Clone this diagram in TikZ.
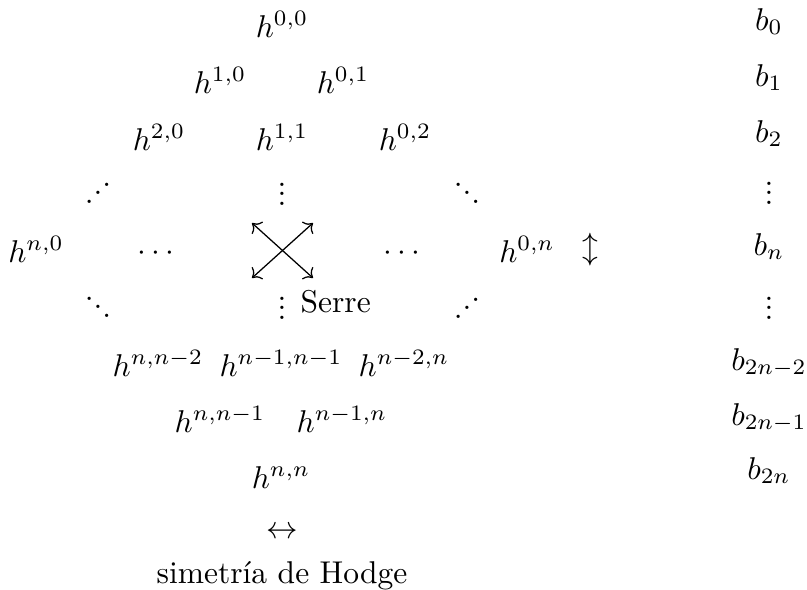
\documentclass[tikz,border=0pt]{standalone}
\usepackage{amsmath}
\usetikzlibrary{arrows.meta}
\newcommand{\vpuntos}{\vbox{\baselineskip3pt\lineskiplimit0pt\hbox{.}\hbox{.}\hbox{.}}}
\newcommand{\dpuntos}{\hbox{\raisebox{5.3pt}{.}\raisebox{2.65pt}{.}.}}
\newcommand{\ipuntos}{\hbox{.\raisebox{2.65pt}{.}\raisebox{5.3pt}{.}}}

\begin{document}
\begin{tikzpicture}[x=0.01115cm,y=-0.01115cm,line width=0.4pt,>={Computer Modern Rightarrow},
  hn/.style={anchor=base,inner sep=0pt},
  bn/.style={anchor=base,inner sep=0pt},
  pt/.style={inner sep=0pt}]
  \useasboundingbox (0,0) rectangle (807,590);
  % diamante de Hodge
  \node[hn] (h00) at (282,37){$h^{0,0}$};
  \node[hn] (h10) at (220,93){$h^{1,0}$}; \node[hn] (h01) at (343,93){$h^{0,1}$};
  \node[hn] (h20) at (159,150){$h^{2,0}$}; \node[hn] (h11) at (282,150){$h^{1,1}$}; \node[hn] (h02) at (405,150){$h^{0,2}$};
  \node[pt] (d3a) at (98,193){\ipuntos}; \node[pt] (d3b) at (282,194){\vpuntos}; \node[pt] (d3c) at (467,193){\dpuntos};
  \node[hn] (hn0) at (36,262){$h^{n,0}$}; \node[hn] (c4a) at (159,260){$\cdots$};
  \node[hn] (c4b) at (405,260){$\cdots$}; \node[hn] (h0n) at (527,262){$h^{0,n}$};
  \node[pt] (d5a) at (98,307){\dpuntos}; \node[pt] (d5b) at (282,308){\vpuntos}; \node[pt] (d5c) at (467,308){\ipuntos};
  \node[hn] (hnn2) at (158,376){$h^{n,n-2}$}; \node[hn] (hn1n1) at (281,376){$h^{n-1,n-1}$}; \node[hn] (hn2n) at (404,376){$h^{n-2,n}$};
  \node[hn] (hnn1) at (220,432){$h^{n,n-1}$}; \node[hn] (hn1n) at (342,432){$h^{n-1,n}$};
  \node[hn] (hnn) at (281,488){$h^{n,n}$};
  % simetrias
  \coordinate (snw) at (252,223); \coordinate (sne) at (313,223);
  \coordinate (ssw) at (252,278); \coordinate (sse) at (313,278);
  \draw[<->] (snw)--(sse); \draw[<->] (sne)--(ssw);
  \node[hn,anchor=base west] (serre) at (300,312){Serre};
  \node (conj) at (590,250){$\updownarrow$};
  \node (hodge) at (282,533){$\leftrightarrow$};
  \node[hn] (hodgetxt) at (282,583){simetría de Hodge};
  % numeros de Betti
  \node[bn] (b0) at (769,30){$b_0$};
  \node[bn] (b1) at (769,86){$b_1$};
  \node[bn] (b2) at (769,142){$b_2$};
  \node[pt] (bd3) at (769,193){\vpuntos};
  \node[bn] (bn) at (769,255){$b_n$};
  \node[pt] (bd5) at (769,308){\vpuntos};
  \node[bn] (b2n2) at (769,370){$b_{2n-2}$};
  \node[bn] (b2n1) at (769,425){$b_{2n-1}$};
  \node[bn] (b2n) at (769,479){$b_{2n}$};
\end{tikzpicture}
\end{document}
